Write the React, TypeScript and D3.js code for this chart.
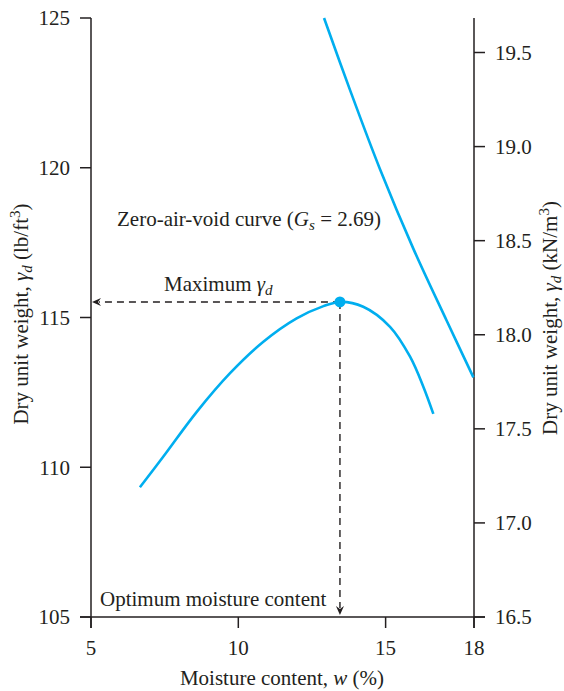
import React from "react";
import * as d3 from "d3";

// Compaction curve (moisture %, dry unit weight lb/ft3)
const compW = [6.66, 7.45, 8.59, 9.72, 10.85, 11.98, 12.89, 13.45, 14.24, 15.15, 15.83, 16.28, 16.62];
const compG = [109.33, 110.35, 111.85, 113.14, 114.19, 114.97, 115.38, 115.52, 115.36, 114.69, 113.69, 112.69, 111.78];

// Zero-air-void curve (Gs = 2.69)
const zavW = [12.91, 13.79, 14.81, 15.94, 17.07, 17.98];
const zavG = [125.0, 122.6, 119.95, 117.3, 114.9, 113.0];

const peakW = 13.45;
const peakG = 115.52;

const xTicks = [5, 10, 15, 18];
const yLeftTicks = [105, 110, 115, 120, 125];
const yRightTicks = [16.5, 17.0, 17.5, 18.0, 18.5, 19.0, 19.5];

const BLUE = "#00aeef";
const INK = "#231f20";
const FONT = "'Liberation Serif', 'Times New Roman', serif";
const FS = 21;

export default function App() {
  const x = d3.scaleLinear().domain([5, 18]).range([91, 474]);
  const yL = d3.scaleLinear().domain([105, 125]).range([617, 18]);
  const yR = d3.scaleLinear().domain([16.5, 19.5]).range([617, 52.5]);

  const line = d3
    .line<[number, number]>()
    .x((d) => x(d[0]))
    .y((d) => yL(d[1]))
    .curve(d3.curveCatmullRom.alpha(0.5));

  const compPts = compW.map((w, i) => [w, compG[i]] as [number, number]);
  const zavPts = zavW.map((w, i) => [w, zavG[i]] as [number, number]);

  const px = x(peakW);
  const py = yL(peakG);
  const left = x(5);
  const right = x(18);
  const bottom = yL(105);
  const top = yL(125);

  return (
    <svg
      width={564}
      height={691}
      style={{ position: "absolute", left: 0, top: 0, background: "#fff" }}
      fontFamily={FONT}
      fontSize={FS}
      fill={INK}
    >
      <rect width={564} height={691} fill="#fff" />
      {/* axes lines */}
      <g stroke={INK} strokeWidth={1.5} fill="none">
        <line x1={left} y1={top} x2={left} y2={bottom + 11} />
        <line x1={right} y1={top} x2={right} y2={bottom + 11} />
        <line x1={left - 11} y1={bottom} x2={right + 11} y2={bottom} />
        {yLeftTicks.map((t) => (
          <line key={"yl" + t} x1={left - 11} x2={left} y1={yL(t)} y2={yL(t)} />
        ))}
        {yRightTicks.map((t) => (
          <line key={"yr" + t} x1={right} x2={right + 11} y1={yR(t)} y2={yR(t)} />
        ))}
        {xTicks.map((t) => (
          <line key={"xt" + t} x1={x(t)} x2={x(t)} y1={bottom} y2={bottom + 11} />
        ))}
      </g>
      {/* tick labels */}
      {yLeftTicks.map((t) => (
        <text key={"lyl" + t} x={70} y={yL(t)} dy="0.35em" textAnchor="end">
          {t}
        </text>
      ))}
      {yRightTicks.map((t) => (
        <text key={"lyr" + t} x={495} y={yR(t)} dy="0.35em" textAnchor="start">
          {t.toFixed(1)}
        </text>
      ))}
      {xTicks.map((t) => (
        <text key={"lx" + t} x={x(t)} y={655} textAnchor="middle">
          {t}
        </text>
      ))}
      {/* axis titles */}
      <text x={282} y={685} textAnchor="middle">
        Moisture content, <tspan fontStyle="italic">w</tspan> (%)
      </text>
      <text transform="translate(28,314) rotate(-90)" textAnchor="middle">
        Dry unit weight, <tspan fontStyle="italic">γ</tspan>
        <tspan fontStyle="italic" fontSize={FS * 0.72} dy={4}>d</tspan>
        <tspan dy={-4}> (lb/ft</tspan>
        <tspan fontSize={FS * 0.72} dy={-8}>3</tspan>
        <tspan dy={8}>)</tspan>
      </text>
      <text transform="translate(557,318) rotate(-90)" textAnchor="middle">
        Dry unit weight, <tspan fontStyle="italic">γ</tspan>
        <tspan fontStyle="italic" fontSize={FS * 0.72} dy={4}>d</tspan>
        <tspan dy={-4}> (kN/m</tspan>
        <tspan fontSize={FS * 0.72} dy={-8}>3</tspan>
        <tspan dy={8}>)</tspan>
      </text>

      {/* dashed guides */}
      <g stroke={INK} strokeWidth={1.4} strokeDasharray="7,5" fill="none">
        <line x1={px} y1={py} x2={left + 8} y2={py} />
        <line x1={px} y1={py} x2={px} y2={bottom - 9} />
      </g>
      <path
        d={`M${left + 1},${py} L${left + 10},${py - 4} L${left + 7},${py} L${left + 10},${py + 4} Z`}
        fill={INK}
      />
      <path
        d={`M${px},${bottom - 2} L${px - 4},${bottom - 11} L${px},${bottom - 8} L${px + 4},${bottom - 11} Z`}
        fill={INK}
      />

      {/* curves */}
      <path d={line(compPts) || ""} fill="none" stroke={BLUE} strokeWidth={2.6} />
      <path d={line(zavPts) || ""} fill="none" stroke={BLUE} strokeWidth={2.6} />
      <circle cx={px} cy={py} r={5.5} fill={BLUE} />

      {/* annotations */}
      <text x={117} y={226}>
        Zero-air-void curve (<tspan fontStyle="italic">G</tspan>
        <tspan fontStyle="italic" fontSize={FS * 0.72} dy={4}>s</tspan>
        <tspan dy={-4}> = 2.69)</tspan>
      </text>
      <text x={164} y={291}>
        Maximum <tspan fontStyle="italic">γ</tspan>
        <tspan fontStyle="italic" fontSize={FS * 0.72} dy={4}>d</tspan>
      </text>
      <text x={100} y={606}>Optimum moisture content</text>
    </svg>
  );
}
